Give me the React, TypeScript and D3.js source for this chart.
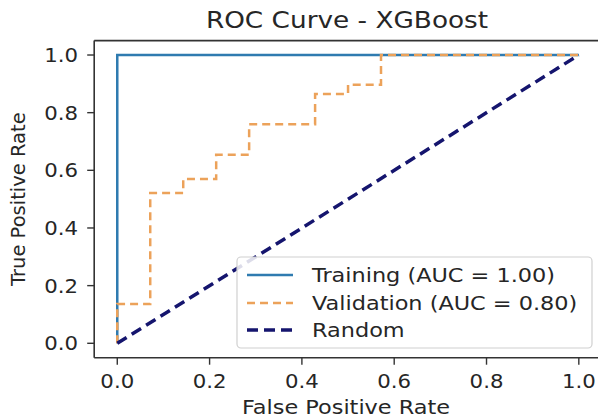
import React from "react";
import * as d3 from "d3";

const title = "ROC Curve - XGBoost";
const xLabel = "False Positive Rate";
const yLabel = "True Positive Rate";
const ticks = [0, 0.2, 0.4, 0.6, 0.8, 1.0];

const trainFpr = [0, 0, 1];
const trainTpr = [0, 1, 1];

const valFpr = [0, 0, 0.0714, 0.0714, 0.1429, 0.1429, 0.2143, 0.2143, 0.2857, 0.2857, 0.4286, 0.4286, 0.5, 0.5, 0.5714, 0.5714, 1];
const valTpr = [0, 0.136, 0.136, 0.521, 0.521, 0.57, 0.57, 0.654, 0.654, 0.76, 0.76, 0.865, 0.865, 0.897, 0.897, 1, 1];

const randFpr = [0, 1];
const randTpr = [0, 1];

const legendLabels = ["Training (AUC = 1.00)", "Validation (AUC = 0.80)", "Random"];

const W = 598;
const H = 419;
const SX = 1.12;
const FONT = "DejaVu Sans, sans-serif";
const TXT = "#262626";

export default function App() {
  const x = d3.scaleLinear().domain([-0.05, 1.05]).range([94.2, 601.9]);
  const y = d3.scaleLinear().domain([-0.05, 1.05]).range([357.7, 40.6]);
  const line = d3
    .line<[number, number]>()
    .x((d) => x(d[0]))
    .y((d) => y(d[1]));
  const zip = (a: number[], b: number[]) => a.map((v, i) => [v, b[i]] as [number, number]);

  const x0 = x.range()[0];
  const x1 = x.range()[1];
  const y0 = y.range()[0];
  const y1 = y.range()[1];

  const txt = (tx: number, ty: number, s: string, size: number, anchor: string, extra: any = {}) => (
    <text
      transform={`translate(${tx},${ty}) scale(${SX},1)`}
      textAnchor={anchor}
      fontFamily={FONT}
      fontSize={size}
      fill={TXT}
      {...extra}
    >
      {s}
    </text>
  );

  const legendX = 237;
  const legendY = 257;
  const rows = [275, 303, 330];
  const styles = [
    { stroke: "#2f7bb0", width: 2.5, dash: "none" },
    { stroke: "#eca25a", width: 2.5, dash: "8,5" },
    { stroke: "#15156e", width: 3.5, dash: "11,6" },
  ];

  return (
    <svg width={W} height={H} style={{ position: "absolute", left: 0, top: 0, background: "#fff" }}>
      <rect x={0} y={0} width={W} height={H} fill="#fff" />
      <clipPath id="clip">
        <rect x={x0} y={y1} width={x1 - x0} height={y0 - y1} />
      </clipPath>
      <g clipPath="url(#clip)">
        <path d={line(zip(trainFpr, trainTpr)) || ""} fill="none" stroke={styles[0].stroke} strokeWidth={styles[0].width} />
        <path d={line(zip(valFpr, valTpr)) || ""} fill="none" stroke={styles[1].stroke} strokeWidth={styles[1].width} strokeDasharray={styles[1].dash} />
        <path d={line(zip(randFpr, randTpr)) || ""} fill="none" stroke={styles[2].stroke} strokeWidth={styles[2].width} strokeDasharray={styles[2].dash} />
      </g>
      {/* spines */}
      <line x1={x0} x2={x0} y1={y1} y2={y0} stroke="#333" strokeWidth={1.6} />
      <line x1={x0} x2={x1} y1={y0} y2={y0} stroke="#333" strokeWidth={1.6} />
      <line x1={x0} x2={x1} y1={y1} y2={y1} stroke="#333" strokeWidth={1.6} />
      <line x1={x1} x2={x1} y1={y1} y2={y0} stroke="#333" strokeWidth={1.6} />
      {/* x ticks */}
      {ticks.map((t) => (
        <g key={"x" + t}>
          <line x1={x(t)} x2={x(t)} y1={y0} y2={y0 + 7} stroke="#333" strokeWidth={1.4} />
          {txt(x(t), 388, t.toFixed(1), 19, "middle")}
        </g>
      ))}
      {/* y ticks */}
      {ticks.map((t) => (
        <g key={"y" + t}>
          <line x1={x0 - 7} x2={x0} y1={y(t)} y2={y(t)} stroke="#333" strokeWidth={1.4} />
          {txt(78, y(t) + 7, t.toFixed(1), 19, "end")}
        </g>
      ))}
      {txt((x(0) + x(1)) / 2 - 2, 414, xLabel, 20, "middle")}
      <text
        transform={`translate(25,${(y0 + y1) / 2}) rotate(-90)`}
        textAnchor="middle"
        fontFamily={FONT}
        fontSize={19.5}
        fill={TXT}
      >
        {yLabel}
      </text>
      {txt(347, 28, title, 23.5, "middle")}
      {/* legend */}
      <rect x={legendX} y={legendY} width={355} height={91} rx={4} fill="#fff" fillOpacity={0.85} stroke="#d0d0d0" strokeWidth={1.2} />
      {legendLabels.map((l, i) => (
        <g key={l}>
          <line x1={247} x2={293} y1={rows[i]} y2={rows[i]} stroke={styles[i].stroke} strokeWidth={styles[i].width} strokeDasharray={styles[i].dash} />
          {txt(312, rows[i] + 7, l, 20, "start")}
        </g>
      ))}
    </svg>
  );
}
